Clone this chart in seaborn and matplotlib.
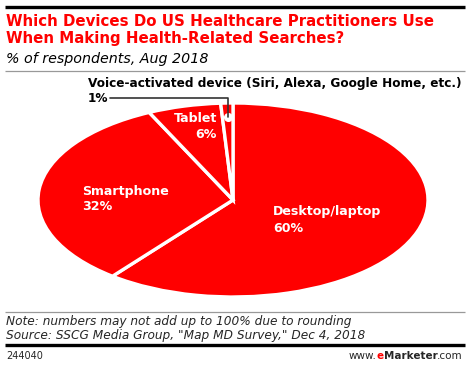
import matplotlib
matplotlib.use("Agg")
import matplotlib.pyplot as plt
import seaborn as sns
import numpy as np
from matplotlib.lines import Line2D

devices = ["Desktop/laptop", "Smartphone", "Tablet", "Voice-activated device (Siri, Alexa, Google Home, etc.)"]
shares = [60, 32, 6, 1]
labels_pct = ["60%", "32%", "6%", "1%"]

RED = "#ff0000"
W, H = 470, 366

sns.set_theme(style="white")
plt.rcParams["font.family"] = ["DejaVu Sans"]

fig = plt.figure(figsize=(4.7, 3.66), dpi=100)
fig.patch.set_facecolor("white")

def fx(x):
    return x / W

def fy(y):
    return 1 - y / H

def hline(y, x0, x1, color, lw):
    fig.add_artist(Line2D([fx(x0), fx(x1)], [fy(y), fy(y)], color=color, lw=lw,
                          transform=fig.transFigure, solid_capstyle="butt"))

# header
hline(7, 5, 465, "black", 2.4)
fig.text(fx(6), fy(21), "Which Devices Do US Healthcare Practitioners Use",
         color=RED, fontsize=10.8, fontweight="bold", va="center", ha="left")
fig.text(fx(6), fy(38), "When Making Health-Related Searches?",
         color=RED, fontsize=10.8, fontweight="bold", va="center", ha="left")
fig.text(fx(6), fy(59), "% of respondents, Aug 2018", color="black",
         fontsize=10.3, style="italic", va="center", ha="left")
hline(71, 5, 465, "#999999", 0.9)

# pie drawn in an axes stretched to an ellipse
cx, cy, rx, ry = 233, 200, 195, 97
ax = fig.add_axes([fx(cx - rx), fy(cy + ry), 2 * rx / W, 2 * ry / H])
wedges, _ = ax.pie(shares, colors=[RED] * len(shares), startangle=90, counterclock=False,
                   wedgeprops=dict(edgecolor="white", linewidth=2.4))
ax.set_aspect("auto")
ax.set_xlim(-1, 1)
ax.set_ylim(-1, 1)
ax.axis("off")

# inside labels
txt = dict(color="white", fontsize=9.1, fontweight="bold", va="center")
fig.text(fx(273), fy(212), devices[0], ha="left", **txt)
fig.text(fx(273), fy(228), labels_pct[0], ha="left", **txt)
fig.text(fx(82), fy(192), devices[1], ha="left", **txt)
fig.text(fx(82), fy(207), labels_pct[1], ha="left", **txt)
fig.text(fx(217), fy(119), devices[2], ha="right", **txt)
fig.text(fx(217), fy(134), labels_pct[2], ha="right", **txt)

# voice slice: dot + leader line
vw = wedges[3]
mid = np.deg2rad((vw.theta1 + vw.theta2) / 2)
dx, dy = 0.86 * np.cos(mid), 0.86 * np.sin(mid)
ax.plot([dx], [dy], "o", color="white", mec="white", ms=5.5, zorder=5)
px = ax.transData.transform((dx, dy))
fig_pt = fig.transFigure.inverted().transform(px)
ly = fy(98)
fig.add_artist(Line2D([fig_pt[0], fig_pt[0], fx(110)], [fig_pt[1], ly, ly],
                      color="#333333", lw=1.2, transform=fig.transFigure))
fig.text(fx(88), fy(84), devices[3], color="black", fontsize=8.7,
         fontweight="bold", va="center", ha="left")
fig.text(fx(88), fy(98), labels_pct[3], color="black", fontsize=8.7,
         fontweight="bold", va="center", ha="left")

# footer
hline(312, 5, 465, "#999999", 0.9)
fig.text(fx(6), fy(322), "Note: numbers may not add up to 100% due to rounding",
         fontsize=8.7, style="italic", va="center", ha="left")
fig.text(fx(6), fy(335), 'Source: SSCG Media Group, "Map MD Survey," Dec 4, 2018',
         fontsize=8.7, style="italic", va="center", ha="left")
hline(345, 5, 465, "black", 2.4)
fig.text(fx(6), fy(356), "244040", fontsize=7, va="center", ha="left")
t1 = fig.text(fx(463), fy(356), ".com", fontsize=7.5, va="center", ha="right")
fig.canvas.draw()
r = fig.canvas.get_renderer()
bb = t1.get_window_extent(r)
t2 = fig.text(bb.x0 / fig.bbox.width, fy(356), "Marketer", fontsize=7.5,
              fontweight="bold", va="center", ha="right")
bb = t2.get_window_extent(r)
t3 = fig.text(bb.x0 / fig.bbox.width, fy(356), "e", fontsize=7.5, color=RED,
              fontweight="bold", va="center", ha="right")
bb = t3.get_window_extent(r)
fig.text(bb.x0 / fig.bbox.width, fy(356), "www.", fontsize=7.5, va="center", ha="right")

fig.savefig("out.png", dpi=100, facecolor="white")
plt.close()
